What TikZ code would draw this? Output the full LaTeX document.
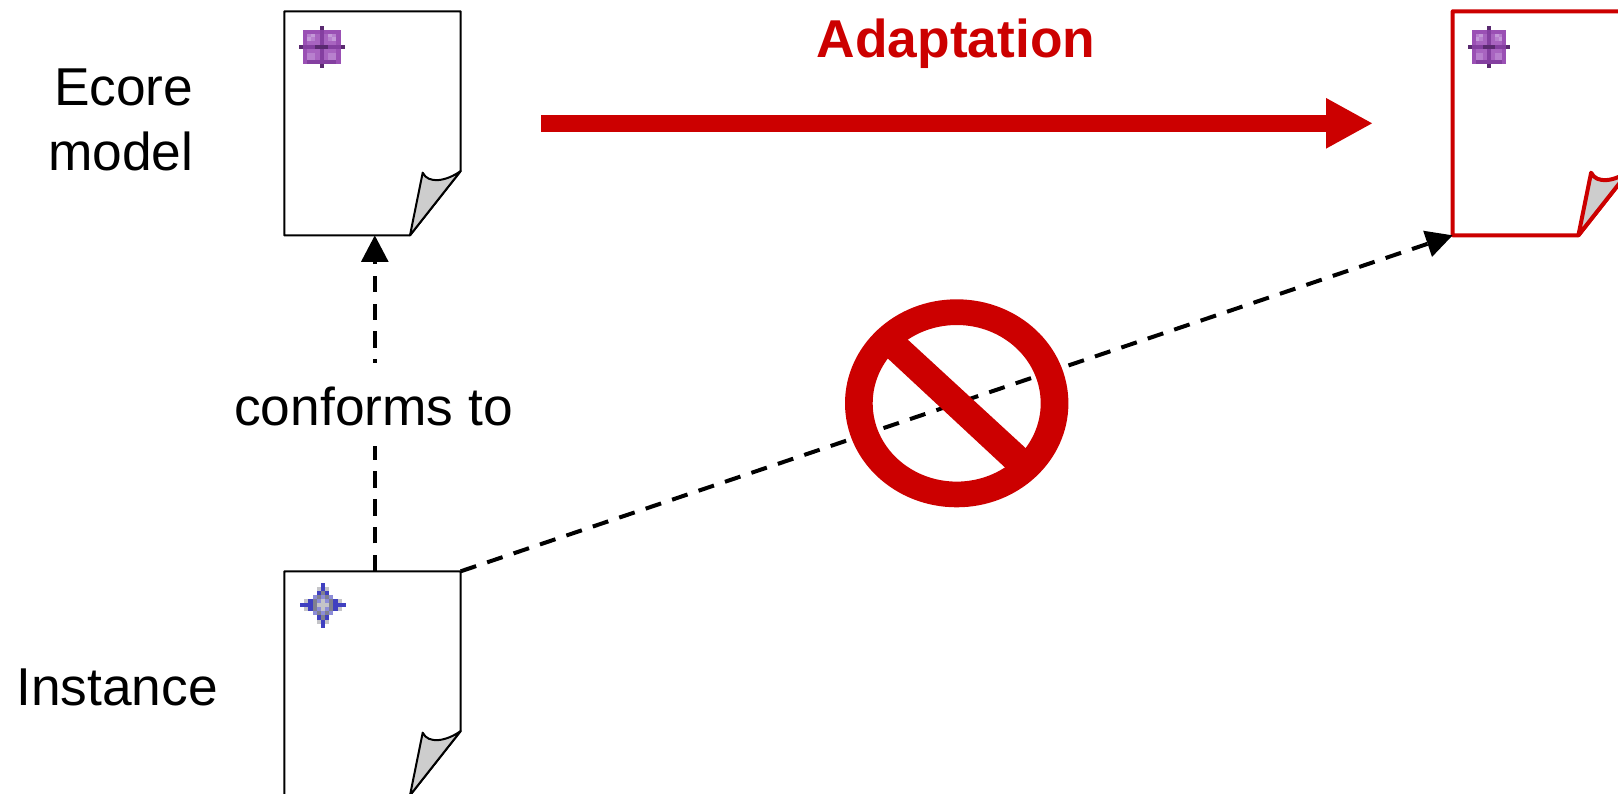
\documentclass[tikz,border=0pt]{standalone}
\usepackage{fontspec}
\setmainfont{Liberation Sans}
\usetikzlibrary{arrows.meta}
\definecolor{sigred}{HTML}{CC0000}
\definecolor{foldgray}{HTML}{CDCDCD}
\definecolor{n}{HTML}{FFFFFF}
\definecolor{D}{HTML}{5A2A70}
\definecolor{B}{HTML}{9A50B4}
\definecolor{P}{HTML}{843FA0}
\definecolor{M}{HTML}{A864C0}
\definecolor{L}{HTML}{B880CE}
\definecolor{H}{HTML}{C498D8}
\definecolor{U}{HTML}{4040C0}
\definecolor{V}{HTML}{8C8CD8}
\definecolor{G}{HTML}{808090}
\definecolor{S}{HTML}{C4C4C8}
\newcommand{\pixicon}[5]{% x,y,cellw,cellh,rows
  \foreach \pxrow [count=\pxr from 0] in {#5}{
    \foreach \pxc [count=\pxk from 0] in \pxrow{
      \fill[\pxc] ({#1+\pxk*#3},{#2+\pxr*#4}) rectangle ++({#3+.15},{#4+.15});
    }}}
\newcommand{\purpleicon}[4]{\pixicon{#1}{#2}{#3}{#4}{
  {n,n,n,n,n,D,n,n,n,n,n},
  {n,B,B,B,B,P,B,B,B,B,n},
  {n,B,L,H,M,P,M,H,L,B,n},
  {n,B,H,L,M,P,M,L,H,B,n},
  {n,B,M,M,M,P,M,M,M,B,n},
  {D,P,P,P,D,D,D,P,P,P,D},
  {n,B,M,M,M,P,M,M,M,B,n},
  {n,B,L,L,M,P,M,L,L,B,n},
  {n,B,L,L,M,P,M,L,L,B,n},
  {n,B,P,P,P,P,P,P,P,B,n},
  {n,n,n,n,n,D,n,n,n,n,n}}}
\newcommand{\stageicon}[4]{\pixicon{#1}{#2}{#3}{#4}{
  {n,n,n,n,n,U,n,n,n,n,n},
  {n,n,n,n,S,U,S,n,n,n,n},
  {n,n,n,n,U,G,U,n,n,n,n},
  {n,n,n,V,G,V,G,V,n,n,n},
  {n,S,U,G,V,S,V,G,U,S,n},
  {U,U,U,G,S,S,S,G,U,U,U},
  {n,S,U,G,V,S,V,G,U,S,n},
  {n,n,n,V,G,V,G,V,n,n,n},
  {n,n,n,n,U,G,U,n,n,n,n},
  {n,n,n,n,S,U,S,n,n,n,n},
  {n,n,n,n,n,U,n,n,n,n,n}}}
\tikzset{
  docnode/.style={minimum width=176.4pt,minimum height=224pt,inner sep=0pt,outer sep=0pt},
  docline/.style={line join=round,line width=#1},
  lbl/.style={font=\fontsize{53.3}{65}\selectfont,inner sep=0pt},
  refline/.style={draw=black,line width=4pt,dash pattern=on 16.3pt off 11.6pt},
  refarrow/.style={refline,-{Triangle[length=26.5pt,width=26.5pt,sep=0pt]}},
}
% name, left x, top y, colour, line width
\newcommand{\docpage}[5]{
  \node[docnode] (#1) at ({#2+88.2},{#3+112}) {};
  \begin{scope}[shift={(#2,#3)}]
    \draw[#4,fill=white,docline=#5] (0,0) -- (176.4,0) -- (176.4,159.7) -- (125.7,224) -- (0,224) -- cycle;
    \draw[#4,fill=foldgray,docline=#5] (125.7,224) -- (138.4,161.4) .. controls (144,173) and (162,170) .. (176.4,159.7) -- cycle;
  \end{scope}
}
\begin{document}
\begin{tikzpicture}[x=1pt,y=-1pt]
\useasboundingbox (0,0) rectangle (1618,793);
\clip (0,0) rectangle (1618,793);
\fill[white] (0,0) rectangle (1618,793);
% documents
\docpage{ecore}{284.3}{11.3}{black}{2pt}
\docpage{adapted}{1452.7}{11.3}{sigred}{4pt}
\docpage{inst}{284.3}{571.3}{black}{2pt}
\purpleicon{298.5}{26}{4.2}{3.8}
\purpleicon{1468}{26}{3.82}{3.8}
\stageicon{300}{583}{4.18}{4.06}
% labels
\node[lbl,text=sigred,font=\fontsize{53.3}{65}\selectfont\bfseries,anchor=base] (adlabel) at (956,57) {Adaptation};
\node[lbl,anchor=base,text height=62pt,text depth=21pt] (conf) at (373.5,425) {conforms to};
\node[lbl,anchor=base east,align=right] (ecorelabel) at (193.5,170.3) {Ecore\\model};
\node[lbl,anchor=base] (instlabel) at (117,705) {Instance};
% end points
\coordinate (instTop) at (374.8,571.3);
\coordinate (ecoreBot) at (374.8,235.3);
\coordinate (adStart) at (541,123.3);
\coordinate (adEnd) at (1373,123.3);
% adaptation arrow
\draw[sigred,line width=17pt,-{Triangle[length=47pt,width=47pt,sep=0pt]}] (adStart) -- (adEnd);
% dashed connectors
\draw[refarrow] (inst.north east) -- (adapted.south west);
\draw[refline] (instTop) -- (instTop |- conf.south);
\draw[refarrow,dash phase=12.8pt] (ecoreBot |- conf.north) -- (ecoreBot);
% prohibition sign
\fill[sigred,even odd rule] (956.7,403.3) ellipse [x radius=111.7,y radius=104]
  (956.7,403.3) ellipse [x radius=84,y radius=78.3];
\fill[sigred] (877.3,348.7) -- (897.3,330) -- (1036.7,458.3) -- (1016,477.7) -- cycle;
\end{tikzpicture}
\end{document}
